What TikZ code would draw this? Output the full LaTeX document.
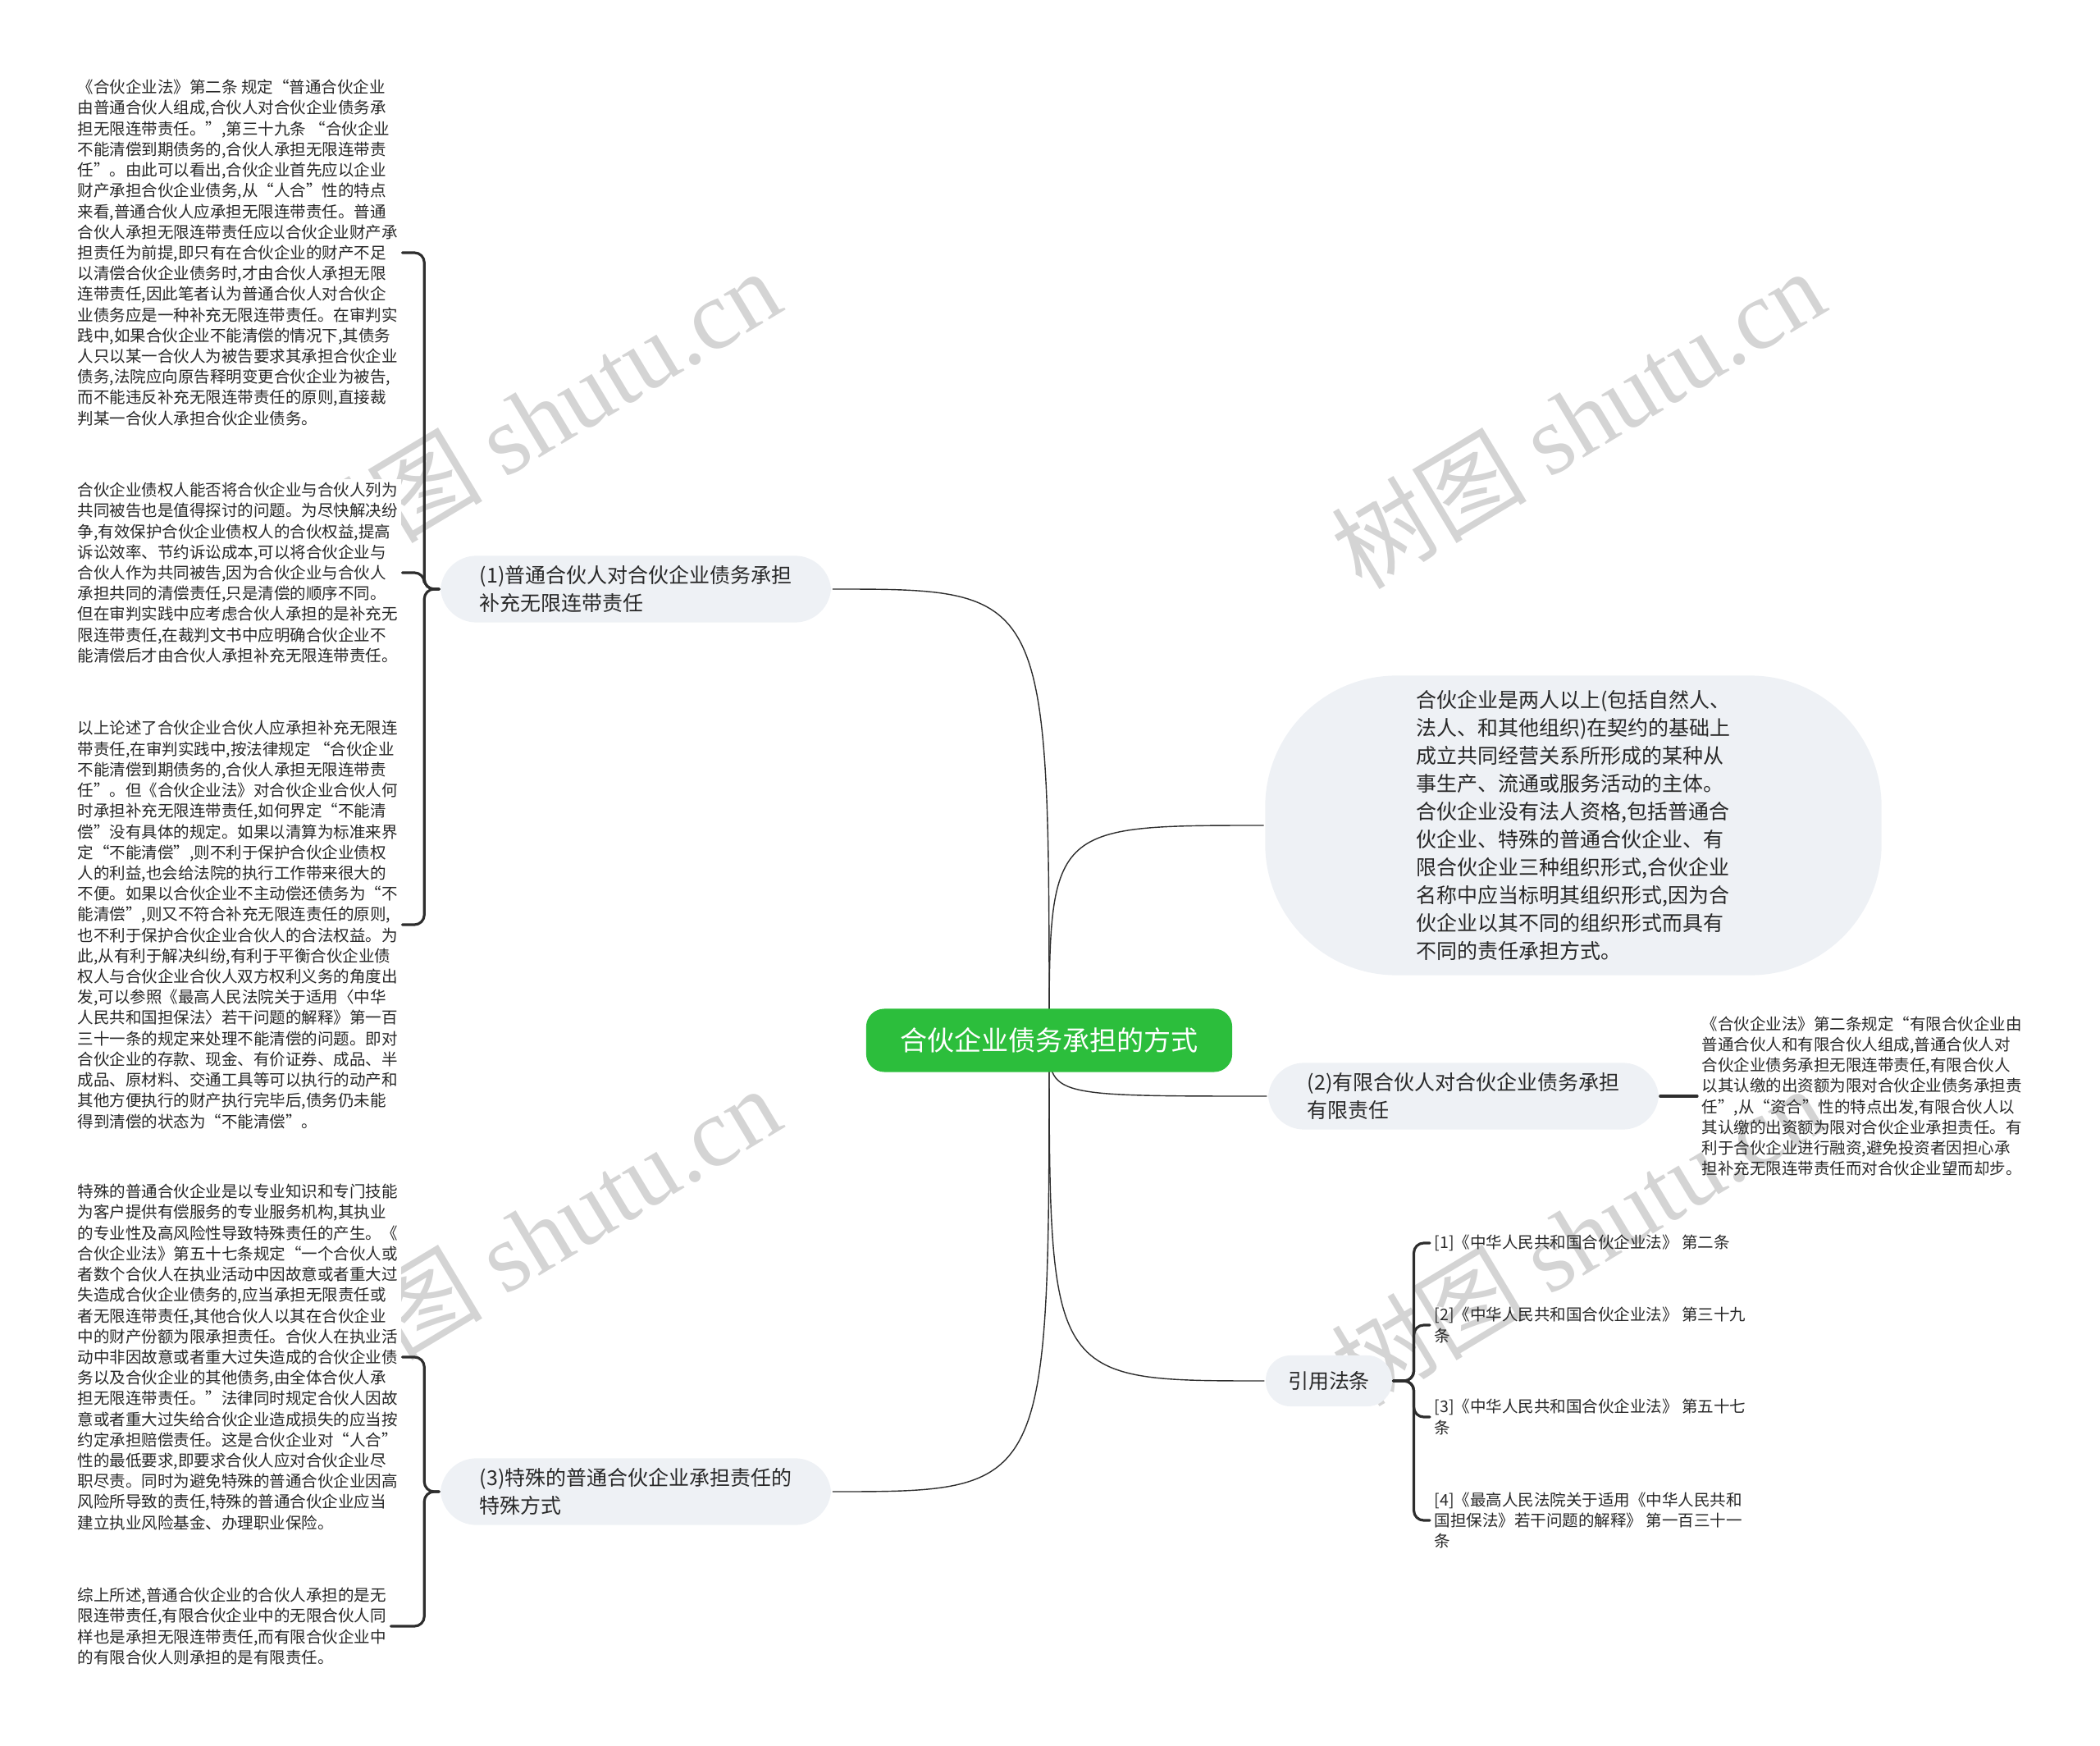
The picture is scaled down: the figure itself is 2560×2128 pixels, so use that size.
\documentclass[tikz,border=0pt]{standalone}
\usepackage{fontspec}
\setmainfont{Noto Sans CJK SC}
\newfontfamily\wmlatin{Liberation Serif}
\usetikzlibrary{backgrounds}
\definecolor{rootgreen}{RGB}{44,190,60}
\definecolor{topicgray}{RGB}{238,241,245}
\definecolor{linkgray}{RGB}{45,45,45}
\definecolor{inkgray}{RGB}{40,40,40}
\definecolor{wmgray}{RGB}{212,212,212}
\newcommand\notefont{\fontsize{5.55pt}{7.17pt}\selectfont}
\newcommand\topicfont{\fontsize{7.1pt}{9.67pt}\selectfont}
\newcommand\rootfont{\fontsize{9.4pt}{11pt}\selectfont}
\newcommand\wmfont{\fontsize{34pt}{36pt}\selectfont}
\tikzset{every picture/.style={line width=0.9pt},
	rootbox/.style={fill=rootgreen, text=white, font=\rootfont, rounded corners=0.22cm, minimum width=4.46cm, minimum height=0.77cm},
	topic/.style={fill=topicgray, font=\topicfont, align=left, inner xsep=0.48cm, inner ysep=0.12cm, rounded corners=0.44cm},
	note/.style={align=left, inner sep=0.04cm, font=\notefont},
	notebg/.style={note, fill=white},
	link/.style={draw=linkgray, rounded corners=0.12cm},
	wm/.style={text=wmgray, font=\wmfont, rotate=31}}

\begin{document}
\begin{tikzpicture}[x=0.01cm, y=-0.01cm, line join=round, line cap=round, text=inkgray]
\useasboundingbox (0,0) rectangle (2560,2128);
\path (1279,1268) coordinate (O)
	(775,718) coordinate (A)
	(1918,1006) coordinate (D)
	(1784,1336) coordinate (B)
	(1620,1683) coordinate (C)
	(775,1818) coordinate (E);

% centre and main branches
\node[rootbox] (root) at (O) {合伙企业债务承担的方式};
\node[topic] (p1) at (A) {(1)普通合伙人对合伙企业债务承担\\补充无限连带责任};
\node[topic, rounded corners=1.6cm, minimum width=7.51cm, minimum height=3.65cm] (def) at (D) {合伙企业是两人以上(包括自然人、\\法人、和其他组织)在契约的基础上\\成立共同经营关系所形成的某种从\\事生产、流通或服务活动的主体。\\合伙企业没有法人资格,包括普通合\\伙企业、特殊的普通合伙企业、有\\限合伙企业三种组织形式,合伙企业\\名称中应当标明其组织形式,因为合\\伙企业以其不同的组织形式而具有\\不同的责任承担方式。};
\node[topic] (p2) at (B) {(2)有限合伙人对合伙企业债务承担\\有限责任};
\node[topic, inner xsep=0.27cm, minimum height=0.62cm, rounded corners=0.3cm] (cite) at (C) {引用法条};
\node[topic] (p3) at (E) {(3)特殊的普通合伙企业承担责任的\\特殊方式};

% notes on the left
\node[notebg, anchor=west] (b1) at (89,308) {《合伙企业法》第二条 规定“普通合伙企业\\由普通合伙人组成,合伙人对合伙企业债务承\\担无限连带责任。”,第三十九条 “合伙企业\\不能清偿到期债务的,合伙人承担无限连带责\\任”。由此可以看出,合伙企业首先应以企业\\财产承担合伙企业债务,从“人合”性的特点\\来看,普通合伙人应承担无限连带责任。普通\\合伙人承担无限连带责任应以合伙企业财产承\\担责任为前提,即只有在合伙企业的财产不足\\以清偿合伙企业债务时,才由合伙人承担无限\\连带责任,因此笔者认为普通合伙人对合伙企\\业债务应是一种补充无限连带责任。在审判实\\践中,如果合伙企业不能清偿的情况下,其债务\\人只以某一合伙人为被告要求其承担合伙企业\\债务,法院应向原告释明变更合伙企业为被告,\\而不能违反补充无限连带责任的原则,直接裁\\判某一合伙人承担合伙企业债务。};
\node[notebg, anchor=west] (b2) at (89,698) {合伙企业债权人能否将合伙企业与合伙人列为\\共同被告也是值得探讨的问题。为尽快解决纷\\争,有效保护合伙企业债权人的合伙权益,提高\\诉讼效率、节约诉讼成本,可以将合伙企业与\\合伙人作为共同被告,因为合伙企业与合伙人\\承担共同的清偿责任,只是清偿的顺序不同。\\但在审判实践中应考虑合伙人承担的是补充无\\限连带责任,在裁判文书中应明确合伙企业不\\能清偿后才由合伙人承担补充无限连带责任。};
\node[notebg, anchor=west] (b3) at (89,1127) {以上论述了合伙企业合伙人应承担补充无限连\\带责任,在审判实践中,按法律规定 “合伙企业\\不能清偿到期债务的,合伙人承担无限连带责\\任”。但《合伙企业法》对合伙企业合伙人何\\时承担补充无限连带责任,如何界定“不能清\\偿”没有具体的规定。如果以清算为标准来界\\定“不能清偿”,则不利于保护合伙企业债权\\人的利益,也会给法院的执行工作带来很大的\\不便。如果以合伙企业不主动偿还债务为“不\\能清偿”,则又不符合补充无限连责任的原则,\\也不利于保护合伙企业合伙人的合法权益。为\\此,从有利于解决纠纷,有利于平衡合伙企业债\\权人与合伙企业合伙人双方权利义务的角度出\\发,可以参照《最高人民法院关于适用〈中华\\人民共和国担保法〉若干问题的解释》第一百\\三十一条的规定来处理不能清偿的问题。即对\\合伙企业的存款、现金、有价证券、成品、半\\成品、原材料、交通工具等可以执行的动产和\\其他方便执行的财产执行完毕后,债务仍未能\\得到清偿的状态为“不能清偿”。};
\node[notebg, anchor=west] (b4) at (89,1654) {特殊的普通合伙企业是以专业知识和专门技能\\为客户提供有偿服务的专业服务机构,其执业\\的专业性及高风险性导致特殊责任的产生。《\\合伙企业法》第五十七条规定“一个合伙人或\\者数个合伙人在执业活动中因故意或者重大过\\失造成合伙企业债务的,应当承担无限责任或\\者无限连带责任,其他合伙人以其在合伙企业\\中的财产份额为限承担责任。合伙人在执业活\\动中非因故意或者重大过失造成的合伙企业债\\务以及合伙企业的其他债务,由全体合伙人承\\担无限连带责任。”法律同时规定合伙人因故\\意或者重大过失给合伙企业造成损失的应当按\\约定承担赔偿责任。这是合伙企业对“人合”\\性的最低要求,即要求合伙人应对合伙企业尽\\职尽责。同时为避免特殊的普通合伙企业因高\\风险所导致的责任,特殊的普通合伙企业应当\\建立执业风险基金、办理职业保险。};
\node[notebg, anchor=west] (b5) at (89,1982) {综上所述,普通合伙企业的合伙人承担的是无\\限连带责任,有限合伙企业中的无限合伙人同\\样也是承担无限连带责任,而有限合伙企业中\\的有限合伙人则承担的是有限责任。};

% notes on the right
\node[note, anchor=west] (t2) at (2069,1336) {《合伙企业法》第二条规定“有限合伙企业由\\普通合伙人和有限合伙人组成,普通合伙人对\\合伙企业债务承担无限连带责任,有限合伙人\\以其认缴的出资额为限对合伙企业债务承担责\\任”,从“资合”性的特点出发,有限合伙人以\\其认缴的出资额为限对合伙企业承担责任。有\\利于合伙企业进行融资,避免投资者因担心承\\担补充无限连带责任而对合伙企业望而却步。};
\node[note, anchor=west] (r1) at (1743,1515) {[1]《中华人民共和国合伙企业法》 第二条};
\node[note, anchor=west] (r2) at (1743,1615) {[2]《中华人民共和国合伙企业法》 第三十九\\条};
\node[note, anchor=west] (r3) at (1743,1727) {[3]《中华人民共和国合伙企业法》 第五十七\\条};
\node[note, anchor=west] (r4) at (1743,1853) {[4]《最高人民法院关于适用《中华人民共和\\国担保法》若干问题的解释》 第一百三十一\\条};

\begin{scope}[on background layer]
	\foreach \x/\y in {650/510, 1923/510, 650/1506, 1923/1506}
		\node[wm] at (\x,\y) {树图 {\wmlatin shutu.cn}};
	\foreach \t/\a in {p1/east, def/west, p2/west, cite/west, p3/east}
		\draw[draw=linkgray] (root.center) .. controls (root.center |- \t.\a) .. (\t.\a);
\end{scope}
\foreach \b in {b1,b2,b3} \draw[link] (p1.west) -- ++(-18,0) |- (\b.east);
\foreach \b in {b4,b5} \draw[link] (p3.west) -- ++(-18,0) |- (\b.east);
\foreach \r in {r1,r2,r3,r4} \draw[link] (cite.east) -- ++(25,0) |- (\r.west);
\draw[link] (p2.east) -- (t2.west);
\end{tikzpicture}
\end{document}
